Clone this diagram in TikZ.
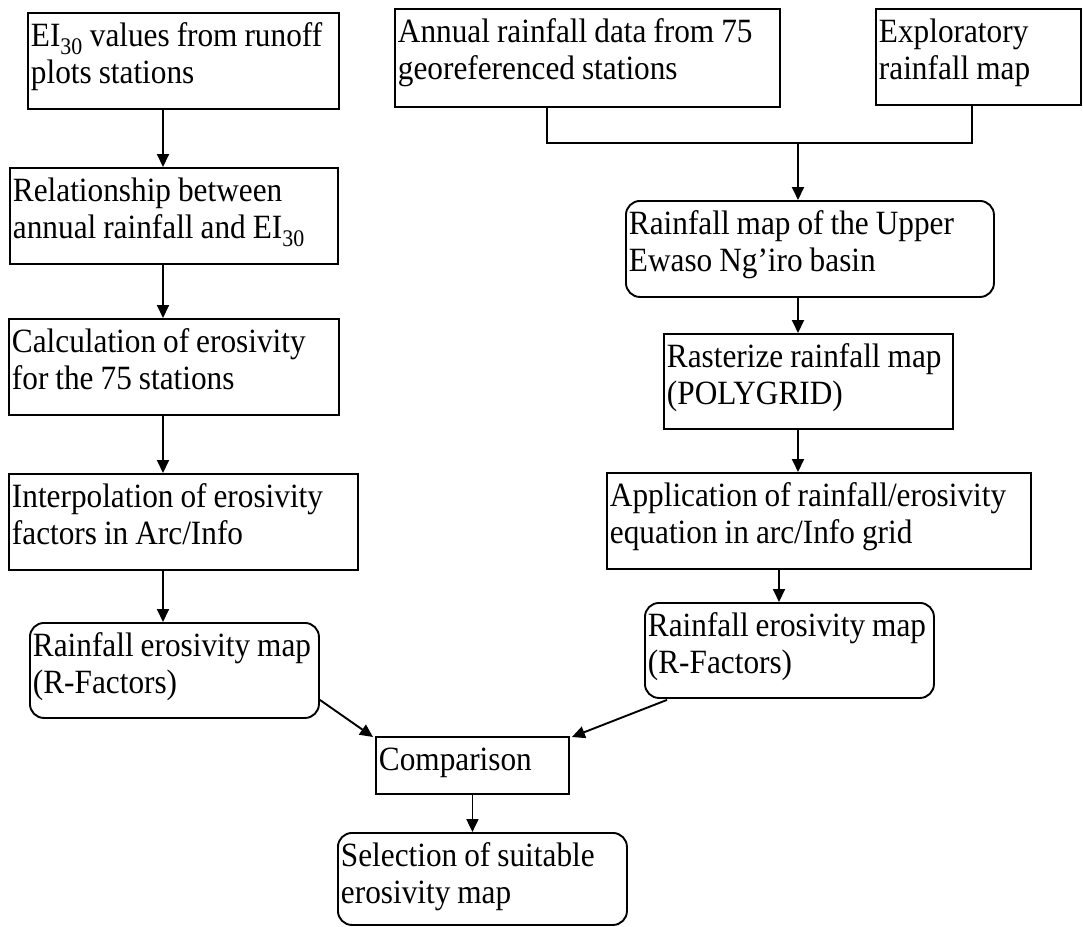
\documentclass[tikz,border=0pt]{standalone}
\usepackage{fontspec}
\setmainfont{Liberation Serif}[FakeStretch=0.92]
\usetikzlibrary{arrows.meta,calc}
\begin{document}
\begin{tikzpicture}[x=1pt,y=-1pt,
  box/.style={draw,line width=1.9pt,anchor=north west,align=flush left,inner xsep=3pt,inner ysep=6pt,
    text height=28pt,font={\fontsize{34}{37}\selectfont},
    execute at begin node={\spaceskip=7pt plus 2pt minus 1pt\relax}},
  two/.style={text depth=56pt},
  one/.style={text depth=17pt},
  rbox/.style={box,rounded corners=14pt},
  arr/.style={line width=1.9pt,-{Triangle[length=13pt,width=12pt]}},
  conn/.style={line width=1.9pt}]
\useasboundingbox (0,0) rectangle (1083,926);

% left column
\node[box,two,text width=305pt] (A) at (27,12) {EI\textsubscript{30} values from runoff\\plots stations};
\node[box,two,text width=322pt] (B) at (9,167) {Relationship between\\annual rainfall and EI\textsubscript{30}};
\node[box,two,text width=324pt] (C) at (8,318) {Calculation of erosivity\\for the 75 stations};
\node[box,two,text width=343pt] (D) at (8,473) {Interpolation of erosivity\\factors in Arc/Info};
\node[rbox,two,text depth=55pt,text width=283pt] (E) at (29,622) {Rainfall erosivity map\\(R-Factors)};

% right column
\node[box,two,text depth=58pt,text width=379pt] (F) at (394,8) {Annual rainfall data from 75\\georeferenced stations};
\node[box,two,text width=199pt] (G) at (875,8) {Exploratory\\rainfall map};
\node[rbox,two,text width=362pt] (H) at (625,200) {Rainfall map of the Upper\\Ewaso Ng’iro basin};
\node[box,two,text depth=55pt,text width=283pt] (I) at (663,333) {Rasterize rainfall map\\(POLYGRID)};
\node[box,two,text width=418pt] (J) at (606,472) {Application of rainfall/erosivity\\equation in arc/Info grid};
\node[rbox,two,text depth=55pt,text width=283pt] (K) at (644,602) {Rainfall erosivity map\\(R-Factors)};

% bottom
\node[box,one,text width=187pt] (L) at (375,736) {Comparison};
\node[rbox,two,text depth=52pt,text width=283pt] (M) at (337,832) {Selection of suitable\\erosivity map};

% helper coordinates
\coordinate (xL) at (163,0);
\coordinate (xF) at (547,0);
\coordinate (xG) at (972,0);
\coordinate (j) at (798,143);
\coordinate (xJ) at (779,0);

% left column arrows
\draw[arr] (A.south -| xL) -- (B.north -| xL);
\draw[arr] (B.south -| xL) -- (C.north -| xL);
\draw[arr] (C.south -| xL) -- (D.north -| xL);
\draw[arr] (D.south -| xL) -- (E.north -| xL);

% top right joint
\draw[conn] (F.south -| xF) |- (j) -| (G.south -| xG);
\draw[arr] (j) -- (H.north -| j);
\draw[arr] (H.south -| j) -- (I.north -| j);
\draw[arr] (I.south -| j) -- (J.north -| j);
\draw[arr] (J.south -| xJ) -- (K.north -| xJ);

% to comparison
\draw[arr] ($(E.south east)+(0,-19)$) -- ($(L.north west)+(-2,1)$);
\draw[arr] ($(K.south west)+(23,1)$) -- ($(L.north east)+(2,1)$);
\draw[arr] (L.south) -- (L.south |- M.north);
\end{tikzpicture}
\end{document}
